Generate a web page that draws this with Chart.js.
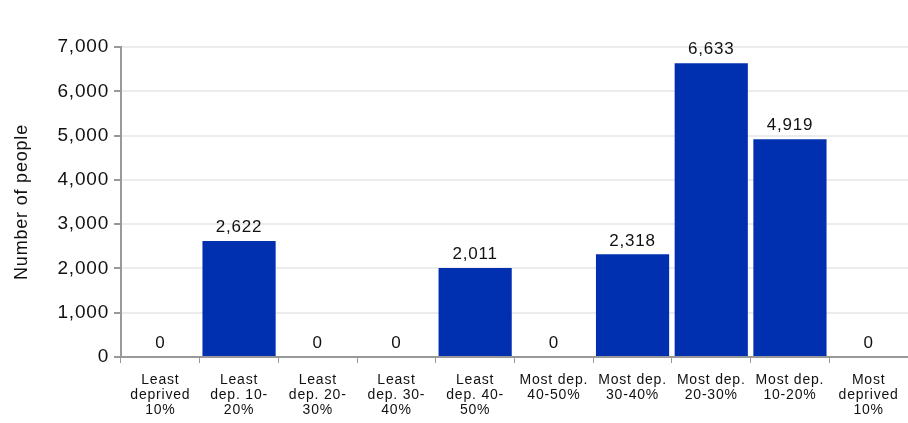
<!DOCTYPE html>
<html>
<head>
<meta charset="utf-8">
<script src="https://cdn.jsdelivr.net/npm/chart.js@4"></script>
<style>
html,body{margin:0;padding:0;background:#fff;}
#wrap{width:908px;height:423px;position:relative;}
</style>
</head>
<body>
<div id="wrap"><canvas id="c" width="908" height="423"></canvas></div>
<script>
const categories = [
  ["Least","deprived","10%"],
  ["Least","dep. 10-","20%"],
  ["Least","dep. 20-","30%"],
  ["Least","dep. 30-","40%"],
  ["Least","dep. 40-","50%"],
  ["Most dep.","40-50%"],
  ["Most dep.","30-40%"],
  ["Most dep.","20-30%"],
  ["Most dep.","10-20%"],
  ["Most","deprived","10%"]
];
const peopleCounts = [0, 2622, 0, 0, 2011, 0, 2318, 6633, 4919, 0];
const yTicks = [0, 1000, 2000, 3000, 4000, 5000, 6000, 7000];
const yTitle = "Number of people";

const FONT = "'Liberation Sans', Arial, sans-serif";
const SPACING = '0.8px';

const spacingPlugin = {
  id: 'spacing',
  beforeUpdate(chart) { chart.ctx.letterSpacing = SPACING; },
  beforeLayout(chart) { chart.ctx.letterSpacing = SPACING; },
  beforeDraw(chart) { chart.ctx.letterSpacing = SPACING; }
};

const valueLabels = {
  id: 'valueLabels',
  afterDatasetsDraw(chart) {
    const ctx = chart.ctx;
    const meta = chart.getDatasetMeta(0);
    ctx.save();
    ctx.letterSpacing = SPACING;
    ctx.font = "17px " + FONT;
    ctx.fillStyle = "#111";
    ctx.textAlign = "center";
    ctx.textBaseline = "bottom";
    meta.data.forEach((bar, i) => {
      const v = chart.data.datasets[0].data[i];
      ctx.fillText(v.toLocaleString('en-US'), bar.x, bar.y - 5);
    });
    ctx.restore();
  }
};

new Chart(document.getElementById('c'), {
  type: 'bar',
  data: {
    labels: categories,
    datasets: [{
      data: peopleCounts,
      backgroundColor: '#0030b0',
      barPercentage: 0.93,
      categoryPercentage: 1.0
    }]
  },
  options: {
    responsive: false,
    animation: false,
    devicePixelRatio: 1,
    layout: { padding: { top: 47, right: 0, left: 0, bottom: 0 } },
    plugins: { legend: { display: false }, tooltip: { enabled: false } },
    scales: {
      x: {
        afterFit(scale) { scale.height = 66; },
        grid: { drawOnChartArea: false, tickLength: 6, tickColor: '#999', offset: true },
        border: { color: '#999', width: 2 },
        ticks: { color: '#111', font: { family: FONT, size: 14, lineHeight: 1.1 }, maxRotation: 0, autoSkip: false, padding: 9 }
      },
      y: {
        min: 0, max: 7000,
        afterBuildTicks(axis) { axis.ticks = yTicks.map(v => ({ value: v })); },
        afterFit(scale) { scale.width = 121; },
        grid: { color: '#ececec', lineWidth: 2, tickLength: 7, tickColor: '#999' },
        border: { color: '#999', width: 2 },
        ticks: { color: '#111', font: { family: FONT, size: 19 }, padding: 5,
          callback: v => v.toLocaleString('en-US') },
        title: { display: true, text: yTitle, color: '#111', font: { family: FONT, size: 18 }, padding: { top: 11, bottom: 0 } }
      }
    }
  },
  plugins: [spacingPlugin, valueLabels]
});
</script>
</body>
</html>
